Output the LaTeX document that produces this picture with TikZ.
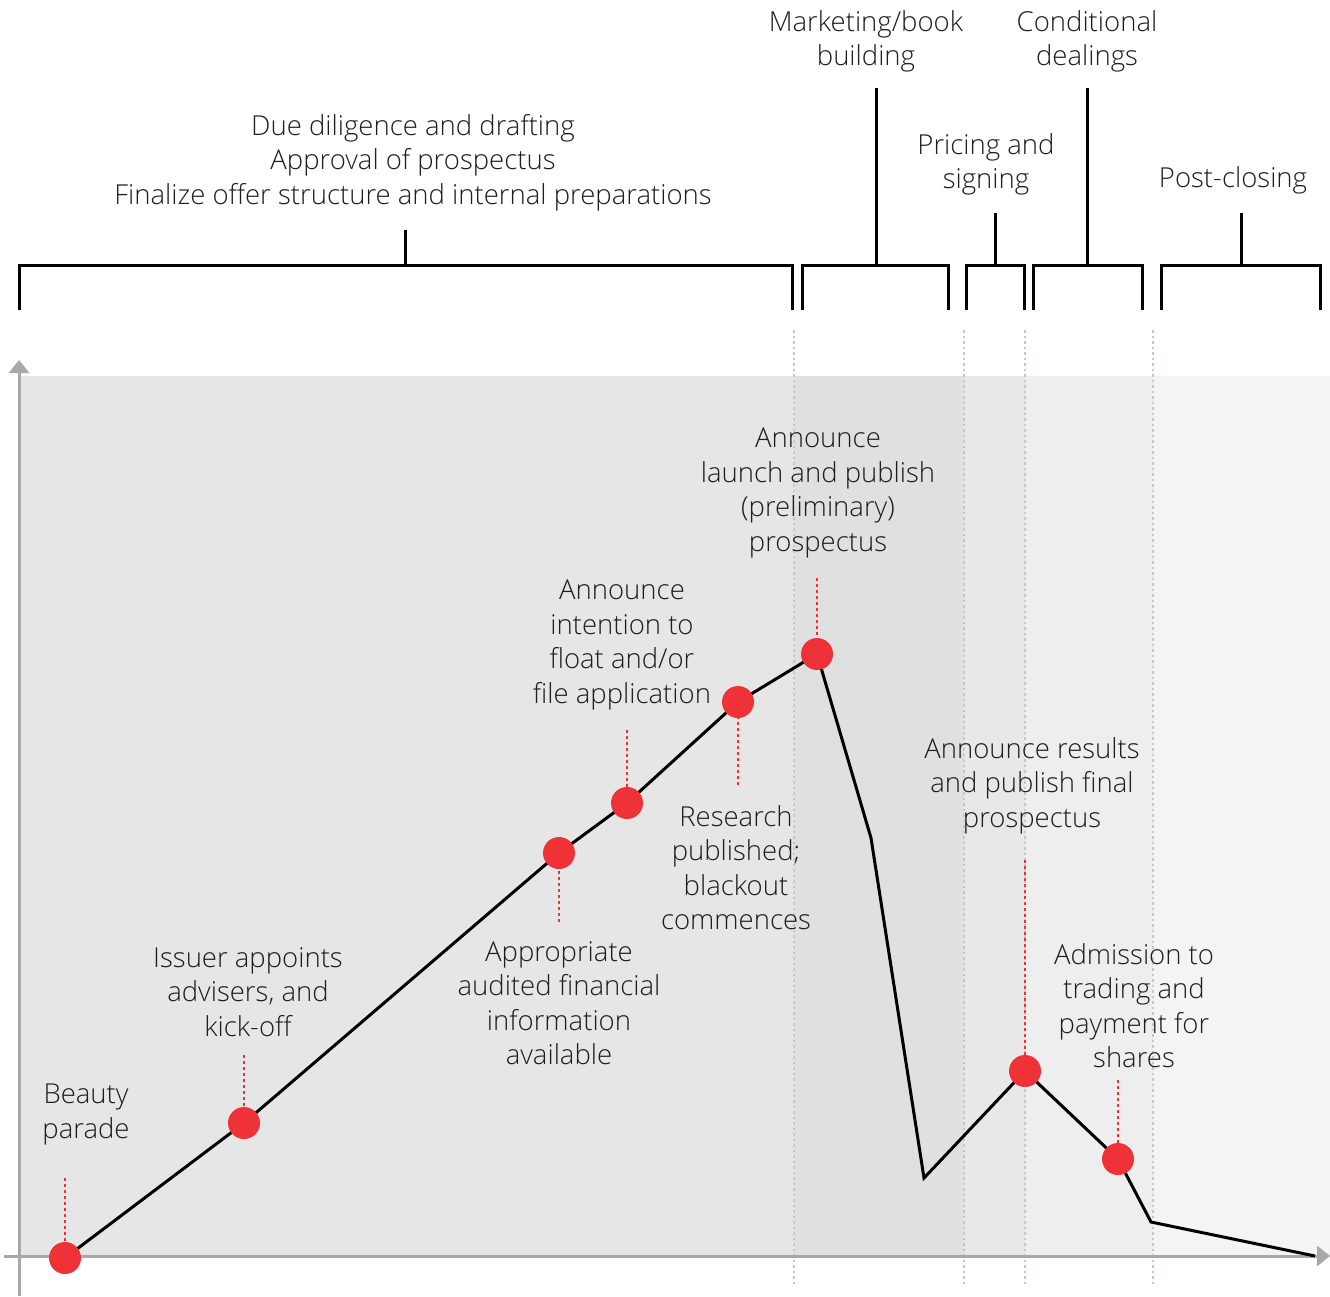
\documentclass[tikz,border=0pt]{standalone}
\usepackage{fontspec}
\setmainfont{Open Sans}[UprightFont=* Light]
\usetikzlibrary{arrows.meta}
\definecolor{txt}{HTML}{1E1E1E}
\definecolor{reddot}{HTML}{EE3237}
\definecolor{axisgray}{HTML}{A8A8A8}
\definecolor{sepblue}{HTML}{BFC8D4}
\definecolor{bandA}{HTML}{E6E6E6}
\definecolor{bandB}{HTML}{E0E0E0}
\definecolor{bandC}{HTML}{E8E8E8}
\definecolor{bandD}{HTML}{EEEEEE}
\definecolor{bandE}{HTML}{F4F4F4}
\tikzset{
  lbl/.style={font=\fontsize{27.5}{34.5}\selectfont, text=txt, align=center, inner sep=0pt},
  brk/.style={draw=black, line width=3pt},
  sep/.style={draw=sepblue, line width=2.5pt, dash pattern=on 2.5pt off 3pt},
  reddash/.style={draw=reddot, line width=2.5pt, dash pattern=on 3pt off 3pt},
  dotnode/.style={circle, fill=reddot, minimum size=32pt, inner sep=0pt},
  ax/.style={draw=axisgray, line width=3pt},
  curve/.style={draw=black, line width=3pt, line join=miter}
}
\begin{document}
\begin{tikzpicture}[x=1pt,y=-1pt]
\useasboundingbox (0,0) rectangle (1330,1296);
% bands
\fill[bandA] (20,376) rectangle (794,1256);
\fill[bandB] (794,376) rectangle (964,1256);
\fill[bandC] (964,376) rectangle (1025,1256);
\fill[bandD] (1025,376) rectangle (1153,1256);
\fill[bandE] (1153,376) rectangle (1330,1256);
% separators
\coordinate (s1t) at (794,330); \coordinate (s1b) at (794,1285);
\coordinate (s2t) at (964,330); \coordinate (s2b) at (964,1285);
\coordinate (s3t) at (1025,330); \coordinate (s3b) at (1025,1285);
\coordinate (s4t) at (1153,330); \coordinate (s4b) at (1153,1285);
\draw[sep] (s1t) -- (s1b);
\draw[sep] (s2t) -- (s2b);
\draw[sep] (s3t) -- (s3b);
\draw[sep] (s4t) -- (s4b);
% axes
\coordinate (yb) at (19,1296); \coordinate (yt) at (19,360);
\coordinate (xl) at (4,1256); \coordinate (xr) at (1330,1256);
\draw[ax, -{Triangle[width=20pt,length=13pt]}] (yb) -- (yt);
\draw[ax, -{Triangle[width=20pt,length=13pt]}] (xl) -- (xr);
% brackets
\draw[brk] (19,310) -- (19,265) -- (792,265) -- (792,310);
\draw[brk] (405,265) -- (405,230);
\draw[brk] (802,310) -- (802,265) -- (948,265) -- (948,310);
\draw[brk] (876,265) -- (876,88);
\draw[brk] (966,310) -- (966,265) -- (1024,265) -- (1024,310);
\draw[brk] (995,265) -- (995,213);
\draw[brk] (1033,310) -- (1033,265) -- (1142,265) -- (1142,310);
\draw[brk] (1087,265) -- (1087,88);
\draw[brk] (1161,310) -- (1161,265) -- (1320,265) -- (1320,310);
\draw[brk] (1241,265) -- (1241,213);
% phase labels
\node[lbl, anchor=north] (p1) at (413,114) {Due diligence and drafting\\Approval of prospectus\\Finalize offer structure and internal preparations};
\node[lbl, anchor=north] (p2) at (866,10) {Marketing/book\\building};
\node[lbl, anchor=north] (p3) at (986,133) {Pricing and\\signing};
\node[lbl, anchor=north] (p4) at (1087,10) {Conditional\\dealings};
\node[lbl, anchor=north] (p5) at (1233,166) {Post-closing};
% curve points
\coordinate (c1) at (65,1258);
\coordinate (c2) at (244,1123);
\coordinate (c3) at (559,853);
\coordinate (c4) at (627,803);
\coordinate (c5) at (738,702);
\coordinate (c6) at (817,654);
\coordinate (k1) at (871,838);
\coordinate (k2) at (924,1178);
\coordinate (c7) at (1025,1071);
\coordinate (c8) at (1118,1159);
\coordinate (k3) at (1151,1222);
\coordinate (k4) at (1315,1256);
% red dashed leaders
\coordinate (l1) at (65,1178);
\coordinate (l2) at (244,1055);
\coordinate (l3) at (559,922);
\coordinate (l4) at (627,730);
\coordinate (l5) at (738,785);
\coordinate (l6) at (817,578);
\coordinate (l7) at (1025,860);
\coordinate (l8) at (1118,1080);
\draw[reddash] (l1) -- (c1);
\draw[reddash] (l2) -- (c2);
\draw[reddash] (l3) -- (c3);
\draw[reddash] (l4) -- (c4);
\draw[reddash] (l5) -- (c5);
\draw[reddash] (l6) -- (c6);
\draw[reddash] (l7) -- (c7);
\draw[reddash] (l8) -- (c8);
% curve
\draw[curve] (c1) -- (c2) -- (c3) -- (c4) -- (c5) -- (c6) -- (k1) -- (k2) -- (c7) -- (c8) -- (k3) -- (k4);
% dots
\foreach \p in {c1,c2,c3,c4,c5,c6,c7,c8} \node[dotnode] (d\p) at (\p) {};
% milestone labels
\node[lbl, anchor=north] (m1) at (86,1084) {Beauty\\parade};
\node[lbl, anchor=north] (m2) at (248,947) {Issuer appoints\\advisers, and\\kick-off};
\node[lbl, anchor=north] (m3) at (559,941) {Appropriate\\audited financial\\information\\available};
\node[lbl, anchor=north] (m4) at (622,580) {Announce\\intention to\\float and/or\\file application};
\node[lbl, anchor=north] (m5) at (736,805) {Research\\published;\\blackout\\commences};
\node[lbl, anchor=north] (m6) at (818,428) {Announce\\launch and publish\\(preliminary)\\prospectus};
\node[lbl, anchor=north] (m7) at (1032,737) {Announce results\\and publish final\\prospectus};
\node[lbl, anchor=north] (m8) at (1134,943) {Admission to\\trading and\\payment for\\shares};
\end{tikzpicture}
\end{document}
